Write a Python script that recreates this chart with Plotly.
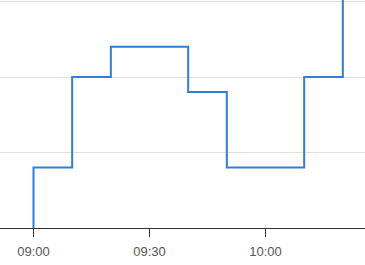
import plotly.graph_objects as go

times = ["09:00", "09:05", "09:10", "09:15", "09:20", "09:25", "09:30", "09:35",
         "09:40", "09:45", "09:50", "09:55", "10:00", "10:05", "10:10", "10:15",
         "10:20", "10:25"]
values = [0, 8, 8, 20, 20, 24, 24, 24, 24, 18, 18, 8, 8, 8, 8, 20, 20, 36]
tick_vals = ["09:00", "09:30", "10:00"]

day = "2024-01-01 "
x = [day + t + ":00" for t in times]

fig = go.Figure(go.Scatter(
    x=x, y=values, mode="lines",
    line=dict(shape="vh", color="#2f7ed8", width=2),
    hoverinfo="skip",
))

fig.update_layout(
    width=365, height=265,
    margin=dict(l=0, r=0, t=0, b=37),
    paper_bgcolor="white", plot_bgcolor="white",
    showlegend=False,
    font=dict(family="Liberation Sans, Arial, sans-serif", size=13, color="#555"),
)
fig.update_xaxes(
    type="date",
    range=[day + "08:51:20", day + "10:25:44"],
    tickvals=[day + t + ":00" for t in tick_vals],
    ticktext=tick_vals,
    showgrid=False, zeroline=False,
    showline=True, linecolor="#333", linewidth=1,
    ticks="outside", ticklen=8, tickcolor="#333", tickwidth=1,
    ticklabelstandoff=3,
)
fig.update_yaxes(
    range=[0, 30.2], dtick=10, tick0=0,
    showticklabels=False, zeroline=False,
    showgrid=True, gridcolor="#e0e0e0", gridwidth=1,
)

fig.write_html("out.html")
